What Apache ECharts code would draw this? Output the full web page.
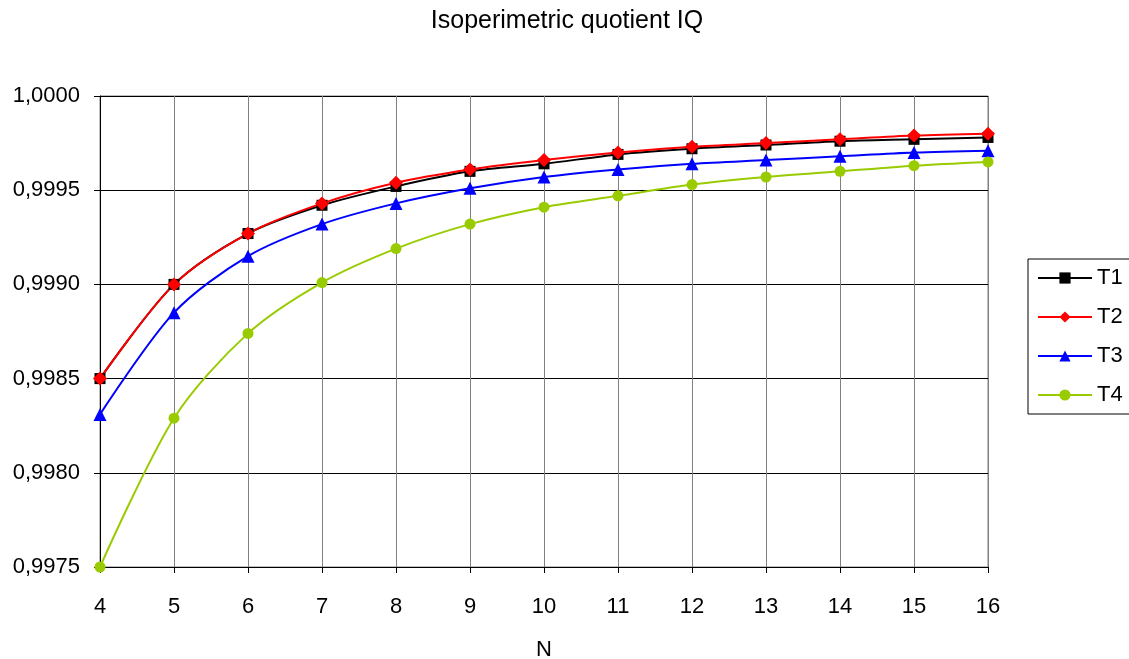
<!DOCTYPE html>
<html>
<head>
<meta charset="utf-8">
<script src="https://cdn.jsdelivr.net/npm/echarts@6/dist/echarts.min.js"></script>
<style>
  html, body { margin: 0; padding: 0; background: #fff; }
  #chart { width: 1129px; height: 659px; }
</style>
</head>
<body>
<div id="chart"></div>
<script>
// N values and quotient series
const nValues = [4, 5, 6, 7, 8, 9, 10, 11, 12, 13, 14, 15, 16]
const t1 = [0.99850, 0.99900, 0.99927, 0.99942, 0.99952, 0.99960, 0.99964, 0.99969, 0.99972, 0.99974, 0.99976, 0.99977, 0.99978]
const t2 = [0.99850, 0.99900, 0.99927, 0.99943, 0.99954, 0.99961, 0.99966, 0.99970, 0.99973, 0.99975, 0.99977, 0.99979, 0.99980]
const t3 = [0.99831, 0.99885, 0.99915, 0.99932, 0.99943, 0.99951, 0.99957, 0.99961, 0.99964, 0.99966, 0.99968, 0.99970, 0.99971]
const t4 = [0.99750, 0.99829, 0.99874, 0.99901, 0.99919, 0.99932, 0.99941, 0.99947, 0.99953, 0.99957, 0.99960, 0.99963, 0.99965]

const font = '"Liberation Sans", Arial, sans-serif'

function pairs(ys) {
    return nValues.map((n, i) => [n, ys[i]])
}

function makeSeries(name, ys, color, symbol, size) {
    return {
        name: name,
        type: 'line',
        data: pairs(ys),
        smooth: 0.3,
        symbol: symbol,
        symbolSize: size,
        lineStyle: { color: color, width: 2 },
        itemStyle: { color: color },
        z: 3
    }
}

const chart = echarts.init(document.getElementById('chart'))

const option = {
    animation: false,
    backgroundColor: '#fff',
    title: {
        text: 'Isoperimetric quotient IQ',
        left: 562,
        textAlign: 'center',
        top: 4,
        textStyle: { fontFamily: font, fontSize: 25, fontWeight: 'normal', color: '#000' }
    },
    legend: {
        orient: 'vertical',
        left: 1028,
        top: 259,
        width: 110,
        padding: [8, 20, 8, 9],
        itemGap: 17,
        itemWidth: 54,
        itemHeight: 14,
        borderColor: '#000',
        borderWidth: 1,
        textStyle: { fontFamily: font, fontSize: 22, color: '#000' },
        data: ['T1', 'T2', 'T3', 'T4']
    },
    grid: {
        left: 100,
        right: 141,
        top: 96,
        bottom: 92,
        outerBoundsMode: 'none',
        show: true,
        borderColor: '#808080',
        borderWidth: 1
    },
    xAxis: {
        type: 'value',
        min: 4,
        max: 16,
        interval: 1,
        name: 'N',
        nameLocation: 'middle',
        nameGap: 72,
        nameTextStyle: { fontFamily: font, fontSize: 22, color: '#000' },
        axisLine: { lineStyle: { color: '#000', width: 1 } },
        axisTick: { show: true, length: 6, lineStyle: { color: '#000' } },
        axisLabel: { fontFamily: font, fontSize: 22, color: '#000', margin: 29 },
        splitLine: { show: true, lineStyle: { color: '#808080', width: 1 } }
    },
    yAxis: {
        type: 'value',
        min: 0.9975,
        max: 1.0,
        interval: 0.0005,
        axisLine: { show: true, lineStyle: { color: '#000', width: 1 } },
        axisTick: { show: true, length: 6, lineStyle: { color: '#000' } },
        axisLabel: {
            fontFamily: font,
            fontSize: 22,
            color: '#000',
            margin: 20,
            formatter: v => v.toFixed(4).replace('.', ',')
        },
        splitLine: { show: true, lineStyle: { color: '#000', width: 1 } }
    },
    series: [
        makeSeries('T1', t1, '#000000', 'rect', 11),
        makeSeries('T2', t2, '#ff0000', 'diamond', 14),
        makeSeries('T3', t3, '#0000ff', 'triangle', 13),
        makeSeries('T4', t4, '#99cc00', 'circle', 11)
    ]
}

chart.setOption(option)
</script>
</body>
</html>
